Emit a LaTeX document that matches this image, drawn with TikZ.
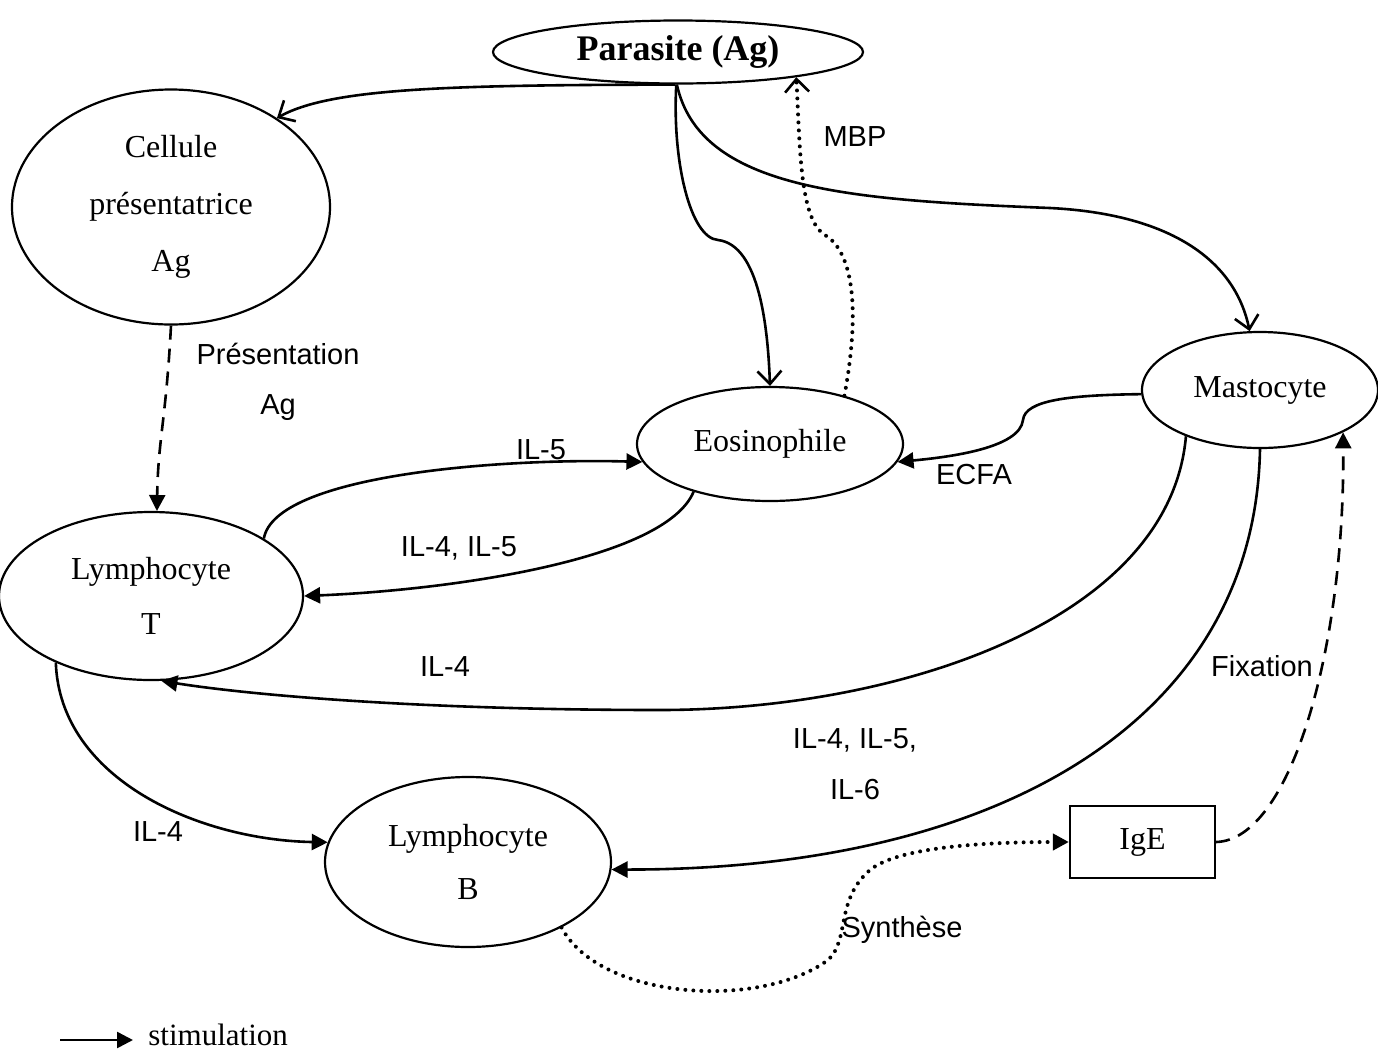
\documentclass[tikz,border=0pt]{standalone}
\usepackage{fontspec}
\setmainfont{Liberation Serif}
\setsansfont{Liberation Sans}
\usetikzlibrary{shapes.geometric,arrows.meta}
\begin{document}
\begin{tikzpicture}[x=0.5pt,y=-0.5pt,
  ell/.style={draw, ellipse, line width=1.1pt, inner sep=0pt, align=center, font=\fontsize{16}{28}\selectfont},
  lab/.style={font=\sffamily\fontsize{14.5}{17}\selectfont, inner sep=0pt},
  conn/.style={line width=1.3pt},
  tri/.tip={Triangle[length=8pt,width=8pt]},
  barb/.tip={Straight Barb[length=6.5pt,width=12pt,line width=1.3pt]},
  stim/.style={conn, -tri},
  openarr/.style={conn, -barb},
  dashline/.style={conn, dash pattern=on 7pt off 4.5pt},
  dotline/.style={line width=2pt, line cap=round, dash pattern=on 0pt off 4pt}]
\useasboundingbox (0,0) rectangle (1378,1051);

% nodes
\node[ell, minimum width=185pt, minimum height=31.5pt, font=\bfseries\fontsize{18}{20}\selectfont] (par) at (678,52) {Parasite (Ag)};
\node[ell, minimum width=159pt, minimum height=117.5pt, font=\fontsize{16}{28.5}\selectfont] (cell) at (171,207) {Cellule\\présentatrice\\Ag};
\node[ell, minimum width=133pt, minimum height=57pt] (eos) at (770,444) {Eosinophile};
\node[ell, minimum width=118pt, minimum height=58pt] (mast) at (1260,390) {Mastocyte};
\node[ell, minimum width=152pt, minimum height=84pt, font=\fontsize{16}{27.5}\selectfont] (LT) at (151,596) {Lymphocyte\\T};
\node[ell, minimum width=143pt, minimum height=85pt, font=\fontsize{16}{26.5}\selectfont] (LB) at (468,862) {Lymphocyte\\B};
\node[draw, line width=1.1pt, minimum width=72.5pt, minimum height=36pt, font=\fontsize{16}{20}\selectfont] (ige) at (1142.5,842) {IgE};

% parasite connections
\draw[openarr] (par.-95) .. controls (450,85) and (330,88) .. (cell.40);
\draw[openarr] (par.-93) .. controls (672,160) and (690,238) .. (718,240) .. controls (760,245) and (768,330) .. (eos.north);
\draw[openarr] (par.-92) .. controls (700,190) and (850,200) .. (1050,208) .. controls (1170,214) and (1235,260) .. (mast.100);
\draw[dotline, -barb] (eos.33) .. controls (862,300) and (850,250) .. (825,235) .. controls (800,220) and (800,150) .. (par.-12);
\node[lab] (lmbp) at (855,137) {MBP};

% presentation
\draw[dashline, -tri] (cell.south) .. controls (166,420) and (158,440) .. (LT.86);
\node[lab] (lpres) at (278,354) {Présentation};
\node[lab] (lag) at (278,408) {Ag};

% LT <-> Eos
\draw[stim] (LT.27) .. controls (275,475) and (500,458) .. (eos.188);
\node[lab] (lil5) at (541,450) {IL-5};
\draw[stim] (eos.212) .. controls (665,560) and (450,590) .. (LT.east);
\node[lab] (lil45) at (459,548) {IL-4, IL-5};

% ECFA
\draw[stim] (mast.182) .. controls (1070,395) and (1025,400) .. (1023,420) .. controls (1020,448) and (950,457) .. (eos.-8);
\node[lab] (lecfa) at (974,475) {ECFA};

% Mast -> LT
\draw[stim] (mast.212) .. controls (1170,620) and (900,710) .. (660,710) .. controls (420,710) and (250,695) .. (LT.-83);
\node[lab] (lil4a) at (445,667) {IL-4};

% Mast -> LB
\draw[stim] (mast.south) .. controls (1255,720) and (1000,870) .. (LB.-3);
\node[lab] (lil456a) at (855,740) {IL-4, IL-5,};
\node[lab] (lil456b) at (855,790) {IL-6};

% LT -> LB
\draw[stim] (LT.215) .. controls (60,780) and (200,840) .. (LB.172);
\node[lab] (lil4b) at (158,832) {IL-4};

% Synthese
\draw[dotline, -tri] (LB.-35) .. controls (600,1000) and (760,1010) .. (828,960) .. controls (850,940) and (835,900) .. (870,870) .. controls (900,845) and (1000,842) .. (ige.west);
\node[lab] (lsyn) at (902,930) {Synthèse};

% Fixation
\draw[dashline, -tri] (ige.east) .. controls (1290,840) and (1345,650) .. (mast.-27);
\node[lab] (lfix) at (1262,666) {Fixation};

% legend
\coordinate (lg1) at (60,1040);
\coordinate (lg2) at (133,1040);
\draw[stim] (lg1) -- (lg2);
\node[anchor=west, inner sep=0pt, font=\fontsize{15.5}{18}\selectfont] (lgt) at (148,1035) {stimulation};
\end{tikzpicture}
\end{document}
